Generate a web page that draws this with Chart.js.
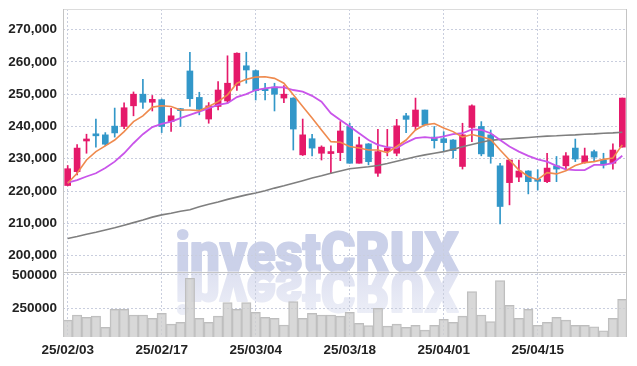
<!DOCTYPE html>
<html>
<head>
<meta charset="utf-8">
<script src="https://cdn.jsdelivr.net/npm/chart.js@4/dist/chart.umd.min.js"></script>
<style>
  html, body { margin: 0; padding: 0; background: #fff; }
  #wrap { width: 637px; height: 366px; }
</style>
</head>
<body>
<div id="wrap"><canvas id="chart" width="637" height="366"></canvas></div>
<script>
// --- data (daily candles, 25/02/03 .. 25/04/28) ---
const dates = [
  '25/02/03','25/02/04','25/02/05','25/02/06','25/02/07','25/02/10','25/02/11','25/02/12','25/02/13','25/02/14',
  '25/02/17','25/02/18','25/02/19','25/02/20','25/02/21','25/02/24','25/02/25','25/02/26','25/02/27','25/02/28',
  '25/03/04','25/03/05','25/03/06','25/03/07','25/03/10','25/03/11','25/03/12','25/03/13','25/03/14','25/03/17',
  '25/03/18','25/03/19','25/03/20','25/03/21','25/03/24','25/03/25','25/03/26','25/03/27','25/03/28','25/03/31',
  '25/04/01','25/04/02','25/04/03','25/04/04','25/04/07','25/04/08','25/04/09','25/04/10','25/04/11','25/04/14',
  '25/04/15','25/04/16','25/04/17','25/04/18','25/04/21','25/04/22','25/04/23','25/04/24','25/04/25','25/04/28'
];

const openP = [
  221700,226000,235500,237600,237400,240100,240000,246400,250000,247500,
  248300,241500,245200,257200,249000,242300,246200,247900,252700,258800,
  257300,251500,252200,248800,248800,231200,236200,231700,231600,231900,
  240000,228600,234600,225500,232400,231700,243300,240000,245100,236700,
  236200,235800,227600,239700,240000,237400,227800,222600,224300,226200,
  223300,222900,227800,227800,233300,228800,232200,229600,228600,233600
];
const highP = [
  227900,234400,237600,242300,238100,245700,247300,250700,254600,249600,
  248500,245600,245600,263000,250600,247400,253900,261900,262800,263000,
  257500,253400,253400,252700,248900,242300,237600,234000,234000,241500,
  241000,236700,234700,239100,239100,242200,244100,248800,245100,240000,
  238400,235900,241000,246700,241500,238900,228600,229700,229600,226300,
  226600,231700,230700,231900,236100,233300,232700,231700,234600,248800
];
const lowP = [
  221600,225000,231700,233600,234000,236700,239300,243300,245600,244800,
  238100,238500,240000,246200,243600,241000,245100,247200,251200,253400,
  248200,248200,244800,247400,232700,231000,230900,229600,225500,229400,
  228600,228600,228100,224500,230900,230900,238100,238900,240500,233300,
  232200,230200,226800,235300,230900,228600,209800,215700,222900,219100,
  220300,222600,222900,226500,229100,228600,229100,227100,226800,233600
];
const closeP = [
  226900,233300,236000,237100,234500,238000,245800,250000,247500,248400,
  240000,243300,244900,248600,245300,246400,251300,253400,262700,257500,
  251100,251100,250000,250000,239200,237400,233300,233600,232000,238600,
  228600,234300,229100,232200,233300,240200,242200,245100,240500,235600,
  235000,232500,237400,246400,231500,230700,215200,229600,226200,222900,
  223000,227100,226800,230900,229900,230900,230500,228100,232700,248800
];

// moving averages as drawn (orange short, purple medium, grey long)
const maShort = [
  222400,225500,229600,232200,234000,235800,238400,241500,243300,246000,
  246400,246200,245100,245100,244900,246200,247700,249800,253400,254600,
  255300,255400,254900,253400,249800,246200,242600,238900,235300,235100,
  233800,233300,232700,232700,231900,233800,235800,238900,240500,240900,
  239500,238400,236700,237500,236800,236000,232700,229600,226500,224500,
  223500,225700,225300,226300,227900,228800,229100,229800,230200,234300
];
const maMid = [
  222600,223400,224500,225500,227100,229100,231700,234800,237600,239800,
  240800,241500,242600,243600,244600,245700,246700,247200,249100,250000,
  251300,251800,252200,252100,251300,250800,249500,247700,244100,242000,
  240000,237900,235800,234300,233600,233300,235000,236400,236700,236400,
  236900,237600,237900,239100,238900,237900,235800,233800,232200,230900,
  229800,229100,227800,226700,226500,226500,228100,228100,228600,230900
];
const maLong = [
  205300,205900,206600,207200,207900,208600,209400,210200,211000,211900,
  212600,213100,213700,214200,215100,215900,216600,217400,218100,218800,
  219400,220100,220900,221600,222400,223200,224000,224700,225500,226200,
  226900,227200,227500,227900,228500,229200,229900,230600,231200,231700,
  232200,232900,233700,234400,235100,235700,236000,236200,236400,236600,
  236800,237000,237100,237300,237400,237600,237700,237900,238000,238200
];

const volume = [
  162000,200000,182000,192000,107000,242000,242000,200000,200000,175000,
  212000,132000,145000,475000,175000,145000,192000,292000,242000,292000,
  220000,182000,175000,125000,300000,175000,212000,200000,200000,192000,
  220000,137000,120000,250000,117000,132000,107000,122000,87000,122000,
  167000,145000,192000,375000,200000,150000,457000,272000,175000,242000,
  122000,145000,182000,162000,122000,122000,112000,82000,175000,317000
];

const priceTicks = [200000, 210000, 220000, 230000, 240000, 250000, 260000, 270000];
const volumeTicks = [250000, 500000];
const WATERMARK = 'investCRUX';

// --- colours ---
const UP = '#e5196a';
const DOWN = '#3297c9';
const GRID = '#c9cede';
const TICK_FONT = { family: "'Liberation Sans', Arial, sans-serif", size: 13.5, weight: 'bold' };

const candleColors = openP.map((o, i) => closeP[i] >= o ? UP : DOWN);
const wickData = lowP.map((l, i) => [l, highP[i]]);
const bodyData = openP.map((o, i) => [o, closeP[i]]);

// axis width fixed, and no extra label padding pushing the plot area in
function fitY(axis) {
  axis.width = 63;
  axis.paddingTop = 0;
  axis.paddingBottom = 0;
}

// watermark + its reflection, drawn first so grid and marks sit on top
const watermarkPlugin = {
  id: 'watermark',
  beforeDraw(chart) {
    const ctx = chart.ctx;
    const baseY = chart.scales.y.bottom;
    const cx = 317;
    ctx.save();
    ctx.font = "900 55px Roboto, 'DejaVu Sans', sans-serif";
    ctx.textAlign = 'center';
    ctx.textBaseline = 'alphabetic';
    ctx.lineJoin = 'round';
    const sx = 283 / ctx.measureText(WATERMARK).width;
    ctx.translate(cx, baseY);
    ctx.scale(sx, 1);
    ctx.fillStyle = 'rgb(203,209,233)';
    ctx.strokeStyle = 'rgb(203,209,233)';
    ctx.lineWidth = 2;
    ctx.fillText(WATERMARK, 0, 0);
    ctx.strokeText(WATERMARK, 0, 0);
    // mirrored copy below the baseline
    ctx.scale(1, -1);
    const g = ctx.createLinearGradient(0, 0, 0, -42);
    g.addColorStop(0, 'rgb(222,225,241)');
    g.addColorStop(1, 'rgb(236,238,247)');
    ctx.fillStyle = g;
    ctx.strokeStyle = g;
    ctx.fillText(WATERMARK, 0, 0);
    ctx.strokeText(WATERMARK, 0, 0);
    ctx.restore();
  }
};

// frame round the plot and the line between price and volume panels
const framePlugin = {
  id: 'frame',
  afterDraw(chart) {
    const { ctx, chartArea: a } = chart;
    const sep = chart.scales.y.bottom;
    ctx.save();
    ctx.lineWidth = 1;
    ctx.strokeStyle = '#dcdcdc';
    ctx.beginPath();
    ctx.moveTo(a.left, a.top + 0.5);
    ctx.lineTo(a.right, a.top + 0.5);
    ctx.stroke();
    ctx.strokeStyle = '#c4c4c4';
    ctx.beginPath();
    ctx.moveTo(a.left + 0.5, a.top);
    ctx.lineTo(a.left + 0.5, a.bottom);
    ctx.moveTo(a.right - 0.5, a.top);
    ctx.lineTo(a.right - 0.5, a.bottom);
    ctx.moveTo(a.left, Math.round(sep) + 0.5);
    ctx.lineTo(a.right, Math.round(sep) + 0.5);
    ctx.stroke();
    ctx.restore();
  }
};

function lineSet(data, color, width) {
  return {
    type: 'line',
    data: data,
    yAxisID: 'y',
    borderColor: color,
    borderWidth: width,
    pointRadius: 0,
    tension: 0,
    fill: false
  };
}

new Chart(document.getElementById('chart'), {
  type: 'bar',
  data: {
    labels: dates,
    datasets: [
      lineSet(maShort, '#ef8a4e', 1.6),
      lineSet(maMid, '#c955ea', 1.8),
      lineSet(maLong, '#7f7f7f', 1.6),
      {
        data: bodyData,
        yAxisID: 'y',
        backgroundColor: candleColors,
        barThickness: 6,
        minBarLength: 2,
        grouped: false
      },
      {
        data: wickData,
        yAxisID: 'y',
        backgroundColor: candleColors,
        barThickness: 1,
        grouped: false
      },
      {
        data: volume,
        yAxisID: 'yv',
        backgroundColor: 'rgba(206,206,206,0.8)',
        borderColor: '#bdbdbd',
        borderWidth: 1,
        barPercentage: 1,
        categoryPercentage: 1,
        grouped: false
      }
    ]
  },
  options: {
    responsive: false,
    animation: false,
    events: [],
    layout: { padding: { top: 9, right: 10, left: 0, bottom: 0 } },
    plugins: { legend: { display: false }, tooltip: { enabled: false } },
    scales: {
      x: {
        type: 'category',
        offset: true,
        afterBuildTicks: (axis) => { axis.ticks = axis.ticks.filter(t => t.value % 10 === 0); },
        afterFit: (axis) => { axis.height = 29; axis.paddingLeft = 0; axis.paddingRight = 0; },
        grid: { color: GRID, drawTicks: false, offset: false },
        border: { display: false, dash: [2, 2] },
        ticks: { autoSkip: false, maxRotation: 0, padding: 5, color: '#222', font: TICK_FONT }
      },
      // volume panel listed first: the stacked layout puts it at the bottom
      yv: {
        position: 'left',
        stack: 'panels',
        stackWeight: 65,
        min: 35000,
        max: 522000,
        afterBuildTicks: (axis) => { axis.ticks = volumeTicks.map(v => ({ value: v })); },
        afterFit: fitY,
        grid: { color: GRID, drawTicks: false },
        border: { display: false, dash: [2, 2] },
        ticks: {
          autoSkip: false, padding: 6, color: '#222', font: TICK_FONT,
          callback: (v) => String(v)
        }
      },
      y: {
        position: 'left',
        stack: 'panels',
        stackWeight: 263,
        min: 194900,
        max: 276400,
        afterBuildTicks: (axis) => { axis.ticks = priceTicks.map(v => ({ value: v })); },
        afterFit: fitY,
        grid: { color: GRID, drawTicks: false },
        border: { display: false, dash: [2, 2] },
        ticks: {
          autoSkip: false, padding: 6, color: '#222', font: TICK_FONT,
          callback: (v) => v.toLocaleString('en-US')
        }
      }
    }
  },
  plugins: [watermarkPlugin, framePlugin]
});
</script>
</body>
</html>
